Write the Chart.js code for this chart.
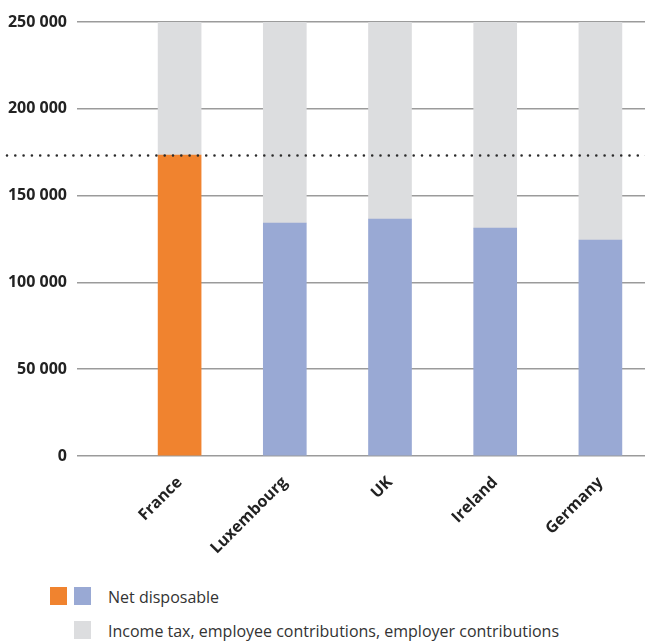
<!DOCTYPE html>
<html>
<head>
<meta charset="utf-8">
<script src="https://cdn.jsdelivr.net/npm/chart.js@4/dist/chart.umd.min.js"></script>
<style>
  html, body { margin: 0; padding: 0; background: #fff; overflow: hidden; }
  body { width: 645px; height: 642px; position: relative; font-family: "Open Sans", sans-serif; }
  #wrap { position: absolute; left: 0; top: 0; width: 653px; height: 570px; }
  .lg { position: absolute; font-size: 16px; color: #333; line-height: 20px; }
  .sw { position: absolute; width: 17px; height: 18px; }
</style>
</head>
<body>
<div id="wrap"><canvas id="chart"></canvas></div>

<div class="sw" style="left:50px; top:587px; background:#f0832f;"></div>
<div class="sw" style="left:74px; top:587px; background:#99a9d4;"></div>
<div class="lg" style="left:108px; top:587px;">Net disposable</div>
<div class="sw" style="left:74px; top:621px; background:#dcdddf;"></div>
<div class="lg" style="left:108px; top:621px;">Income tax, employee contributions, employer contributions</div>

<script>
// ─── DATA ─────────────────────────────────────────────────
const countries = ['France', 'Luxembourg', 'UK', 'Ireland', 'Germany'];
const grossCost = [250000, 250000, 250000, 250000, 250000];
const netDisposable = [173400, 134200, 136500, 131300, 124400];
const yTicks = [0, 50000, 100000, 150000, 200000, 250000];

const taxes = grossCost.map((g, i) => g - netDisposable[i]);
const netColors = countries.map((c, i) => i === 0 ? '#f0832f' : '#99a9d4');
const fmt = v => String(v).replace(/\B(?=(\d{3})+(?!\d))/g, ' ');

// ─── DOTTED REFERENCE LINE (France net) ───────────────────
const refLine = {
  id: 'refLine',
  afterDatasetsDraw(chart) {
    const { ctx, scales: { y } } = chart;
    const py = Math.round(y.getPixelForValue(netDisposable[0])) + 0.5;
    ctx.save();
    ctx.strokeStyle = '#2b2b2b';
    ctx.lineWidth = 2.6;
    ctx.lineCap = 'round';
    ctx.setLineDash([0, 8.3]);
    ctx.beginPath();
    ctx.moveTo(7, py);
    ctx.lineTo(chart.width, py);
    ctx.stroke();
    ctx.restore();
  }
};

// ─── CHART ────────────────────────────────────────────────
const ctx = document.getElementById('chart').getContext('2d');
new Chart(ctx, {
  type: 'bar',
  data: {
    labels: countries,
    datasets: [
      { label: 'Net disposable', data: netDisposable, backgroundColor: netColors, barThickness: 43, borderWidth: 0 },
      { label: 'Income tax, employee contributions, employer contributions', data: taxes, backgroundColor: '#dcdddf', barThickness: 43, borderWidth: 0 }
    ]
  },
  options: {
    responsive: true,
    maintainAspectRatio: false,
    animation: false,
    layout: { padding: { left: 7, right: 0, top: 22, bottom: 0 } },
    plugins: { legend: { display: false }, tooltip: { enabled: false } },
    scales: {
      x: {
        stacked: true,
        grid: { display: false },
        border: { display: false },
        afterFit: s => { s.height = 114; },
        ticks: {
          color: '#222', padding: 9, minRotation: 45, maxRotation: 45,
          font: { family: 'Open Sans', size: 16, weight: 'bold' }
        }
      },
      y: {
        stacked: true,
        min: 0, max: 250000,
        afterFit: s => { s.width = 120; },
        afterBuildTicks: s => { s.ticks = yTicks.map(v => ({ value: v })); },
        grid: { color: '#9b9b9b', lineWidth: 1.6, drawTicks: true, tickLength: 50, tickColor: '#9b9b9b' },
        border: { display: false },
        ticks: {
          color: '#222', padding: 10,
          font: { family: 'Open Sans', size: 16, weight: 'bold' },
          callback: v => fmt(v)
        }
      }
    }
  },
  plugins: [refLine]
});
</script>
</body>
</html>
